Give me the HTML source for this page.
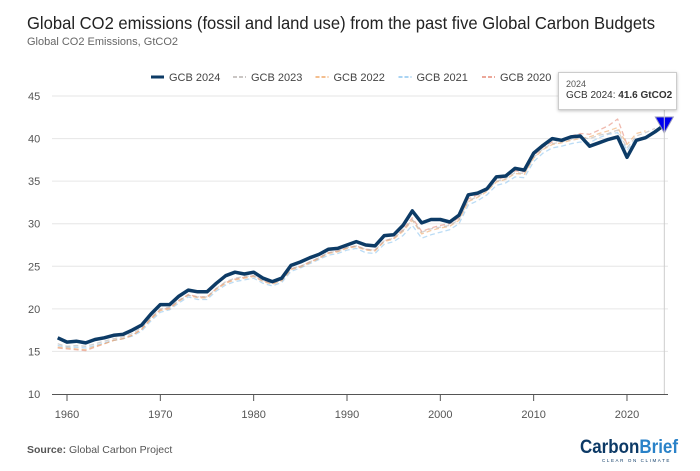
<!DOCTYPE html>
<html><head><meta charset="utf-8">
<style>
body{margin:0;background:#fff;font-family:"Liberation Sans",sans-serif;}
#wrap{position:relative;width:700px;height:471px;overflow:hidden;}
</style></head>
<body>
<div id="wrap">
<svg id="chart" width="700" height="471">
<text x="27" y="29" font-size="17.5" fill="#222" font-family="Liberation Sans, sans-serif" textLength="628" lengthAdjust="spacingAndGlyphs">Global CO2 emissions (fossil and land use) from the past five Global Carbon Budgets</text>
<text x="27" y="45" font-size="11" fill="#666">Global CO2 Emissions, GtCO2</text>
<g id="legend"></g>
<g id="grid"></g>
<g id="series"></g>
<g id="axis"></g>
<text x="27" y="453" font-size="10.5" fill="#555"><tspan font-weight="bold">Source:</tspan> Global Carbon Project</text>
<text x="580" y="453" font-size="19" font-weight="bold" fill="#0d3a66" textLength="98" lengthAdjust="spacingAndGlyphs">Carbon<tspan fill="#2a82c8">Brief</tspan></text>
<text x="602" y="462" font-size="4.5" fill="#0d3a66" letter-spacing="1.6">CLEAR ON CLIMATE</text>
</svg>
<div style="position:absolute;left:558px;top:72px;width:119px;height:38px;background:#fff;border:1px solid #ccc;box-shadow:0 1px 3px rgba(0,0,0,.25);font-size:10px;color:#333;padding:0 0 0 7px;box-sizing:border-box;white-space:nowrap;">
<div style="margin-top:6px;font-size:9px;color:#555">2024</div>
<div style="margin-top:1px">GCB 2024: <b>41.6 GtCO2</b></div>
</div>
</div>
<script>
const years2024 = [1959,1960,1961,1962,1963,1964,1965,1966,1967,1968,1969,1970,1971,1972,1973,1974,1975,1976,1977,1978,1979,1980,1981,1982,1983,1984,1985,1986,1987,1988,1989,1990,1991,1992,1993,1994,1995,1996,1997,1998,1999,2000,2001,2002,2003,2004,2005,2006,2007,2008,2009,2010,2011,2012,2013,2014,2015,2016,2017,2018,2019,2020,2021,2022,2023,2024];
const gcb2024 = [16.6,16.1,16.2,16.0,16.4,16.6,16.9,17.0,17.5,18.1,19.4,20.5,20.5,21.5,22.2,22.0,22.0,23.0,23.9,24.3,24.1,24.3,23.6,23.2,23.6,25.1,25.5,26.0,26.4,27.0,27.1,27.5,27.9,27.5,27.4,28.6,28.7,29.8,31.5,30.1,30.5,30.5,30.2,31.0,33.4,33.6,34.1,35.5,35.6,36.5,36.3,38.3,39.2,40.0,39.8,40.2,40.3,39.1,39.5,39.9,40.2,37.8,39.8,40.1,40.8,41.6];
const gcb2023 = [15.9,15.6,15.7,15.6,15.9,16.2,16.5,16.7,17.1,17.8,19.0,20.0,20.2,21.0,21.6,21.4,21.4,22.4,23.2,23.6,23.8,23.9,23.3,23.0,23.4,24.7,25.0,25.5,26.0,26.6,26.8,27.2,27.4,27.0,26.9,28.0,28.3,29.2,30.5,29.0,29.4,29.6,29.8,30.5,32.7,33.2,33.9,35.0,35.3,36.0,35.9,37.8,38.8,39.4,39.6,39.9,40.1,40.0,40.4,40.6,41.0,38.9,40.3,40.7,41.2];
const gcb2022 = [15.5,15.4,15.3,15.2,15.6,15.9,16.3,16.5,16.9,17.6,18.8,19.8,20.0,20.9,21.6,21.3,21.3,22.3,23.0,23.4,23.6,23.8,23.2,22.9,23.3,24.6,24.9,25.4,25.9,26.5,26.7,27.1,27.3,26.9,26.8,27.9,28.2,29.1,30.4,28.8,29.2,29.5,29.7,30.4,32.6,33.1,33.8,34.9,35.2,35.9,35.8,37.7,38.7,39.3,39.5,39.8,40.0,40.2,40.6,40.9,41.3,39.3,40.6,40.9];
const gcb2021 = [15.7,15.5,15.5,15.4,15.7,16.0,16.3,16.5,16.8,17.4,18.6,19.6,19.9,20.7,21.4,21.1,21.1,22.1,22.8,23.2,23.4,23.6,23.0,22.7,23.1,24.4,24.8,25.3,25.8,26.3,26.5,26.9,27.1,26.6,26.5,27.6,27.9,28.6,29.8,28.3,28.7,29.0,29.3,30.0,32.2,32.7,33.4,34.5,34.8,35.5,35.4,37.3,38.3,38.9,39.1,39.4,39.6,39.5,40.1,40.5,40.7,38.6,40.0];
const gcb2020 = [15.4,15.3,15.2,15.1,15.5,15.9,16.3,16.5,16.9,17.6,18.9,19.9,20.1,21.0,21.7,21.4,21.4,22.4,23.1,23.5,23.7,23.9,23.3,23.0,23.4,24.7,25.0,25.5,26.0,26.6,26.8,27.2,27.4,27.0,26.9,28.0,28.3,29.3,30.7,29.1,29.5,29.8,30.0,30.7,32.9,33.4,34.1,35.2,35.5,36.2,36.1,38.0,39.0,39.6,39.9,40.3,40.6,40.5,41.0,41.5,42.3,39.3];
const yTicks = [10,15,20,25,30,35,40,45];
const xTicks = [1960,1970,1980,1990,2000,2010,2020];
const legendLabels = ["GCB 2024","GCB 2023","GCB 2022","GCB 2021","GCB 2020"];
const colors = ["#0d3b66","#b8b3b0","#f0a868","#8ec5ef","#e58b78"];

const NS="http://www.w3.org/2000/svg";
const x = yr => 67 + (yr-1960)*9.333;
const y = v => 394 - (v-10)*8.514;
function mk(tag, attrs, parent){const e=document.createElementNS(NS,tag);for(const k in attrs)e.setAttribute(k,attrs[k]);parent.appendChild(e);return e;}
const grid=document.getElementById('grid'), series=document.getElementById('series'), axis=document.getElementById('axis'), legend=document.getElementById('legend');

yTicks.forEach(t=>{
  if(t>10){const l=mk('line',{x1:52,x2:668,y1:y(t),y2:y(t),stroke:'#e6e6e6','stroke-width':1},grid);
  
  }
  const tx=mk('text',{x:28,y:y(t)+4,'font-size':11,fill:'#555'},grid);
  tx.textContent=t;
  
  
});
const base=mk('line',{x1:52,x2:668,y1:394.5,y2:394.5,stroke:'#555','stroke-width':1},axis);


xTicks.forEach(t=>{
  const tk=mk('line',{x1:x(t),x2:x(t),y1:394,y2:401,stroke:'#555'},axis);
  
  
  const tx=mk('text',{x:x(t),y:418,'font-size':11,fill:'#555','text-anchor':'middle'},axis);
  tx.textContent=t;
  
  
});
const cl=mk('line',{x1:x(2024),x2:x(2024),y1:110,y2:394,stroke:'#ccc'},axis);



const all=[gcb2024,gcb2023,gcb2022,gcb2021,gcb2020];
for(let i=all.length-1;i>=0;i--){
  const d=all[i].map((v,j)=>(j?'L':'M')+x(years2024[j]).toFixed(1)+','+y(v).toFixed(1)).join('');
  const attrs={d:d,fill:'none',stroke:colors[i],'stroke-width':i===0?3.5:1.3,'stroke-linejoin':'round'};
  if(i>0){attrs['stroke-dasharray']='5,3';attrs.opacity=0.6;}
  const p=mk('path',attrs,series);
  
  
}
const last=gcb2024.length-1, mx=x(years2024[last]), my=y(gcb2024[last]);
const mkr=mk('path',{d:`M${mx-9},${my-8}L${mx+9},${my-8}L${mx},${my+8}Z`,fill:'#0000ee',stroke:'#99b','stroke-width':1},series);



let lx=151;
const widths=[82,82,82,82,82];
legendLabels.forEach((lab,i)=>{
  const g=mk('g',{},legend);
  
  
  const a={x1:lx,x2:lx+13,y1:77,y2:77,stroke:colors[i],'stroke-width':i===0?3:1.5};
  if(i>0)a['stroke-dasharray']='4,2';
  mk('line',a,g);
  const t=mk('text',{x:lx+18,y:81,'font-size':11,fill:'#444'},g);
  t.textContent=lab;
  lx+=widths[i]+i*0.5;
});
</script>
</body></html>
